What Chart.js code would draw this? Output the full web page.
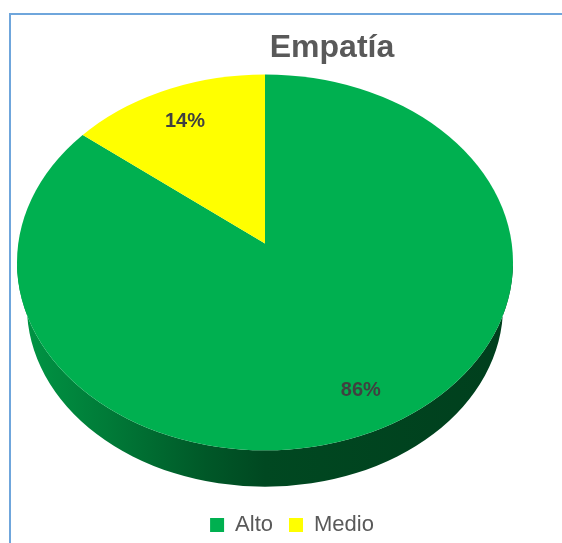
<!DOCTYPE html>
<html>
<head>
<meta charset="utf-8">
<script src="https://cdn.jsdelivr.net/npm/chart.js@4"></script>
<style>
  html, body { margin: 0; padding: 0; background: #fff; overflow: hidden; width: 562px; height: 543px; }
  #frame { position: absolute; left: 9px; top: 13px; width: 620px; height: 620px; border: 2px solid #6fa6dc; box-sizing: border-box; }
  #c { position: absolute; left: 0; top: 0; }
</style>
</head>
<body>
<div id="frame"></div>
<canvas id="c" width="562" height="543"></canvas>
<script>
// Survey result: share of respondents per empathy level
const chartTitle = 'Empatía';
const categories = ['Alto', 'Medio'];
const percentages = [86, 14];

const sliceColors = ['#00b050', '#ffff00'];
const FONT = "'Liberation Sans', Arial, sans-serif";

// Projection of the flat pie onto a tilted, extruded disk.
// All ratios are relative to the disk's half-width (rx) or half-height (ry).
const VIEW = {
  tilt: 0.758,       // ry / rx of the top face
  hubLift: 0.10,     // hub sits above the face centre (perspective)
  sliceTilt: 0.72,   // vertical squash applied to the slice geometry
  cover: 1.25,       // slices are drawn past the rim and clipped by it
  sideDrop: 0.234,   // how far the bottom rim sits below the top rim
  sideShrink: 0.96,  // bottom rim is slightly smaller (perspective)
  labelAt: 0.8       // value labels at this fraction of the hub-to-rim distance
};
const SIDE_SHADE = [[0, 0.86], [0.18, 0.7], [0.38, 0.5], [0.5, 0.41], [1, 0.36]];
const BOX_SHIFT = { title: { x: 67, y: 0 }, legend: { x: 27, y: 3 } };

function shade(hex, f) {
  const n = parseInt(hex.slice(1), 16);
  const r = (n >> 16) & 255, g = (n >> 8) & 255, b = n & 255;
  return `rgb(${Math.round(r * f)},${Math.round(g * f)},${Math.round(b * f)})`;
}

function geometry(chart) {
  const area = chart.chartArea;
  const arc0 = chart.getDatasetMeta(0).data[0];
  const RX = area.width / 2, RY = RX * VIEW.tilt;
  const cx = (area.left + area.right) / 2;
  const fy = area.top + RY;
  return {
    cx, fy, RX, RY,
    hy: fy - VIEW.hubLift * RY,
    s: VIEW.cover * RX / arc0.outerRadius,
    k: VIEW.sliceTilt,
    ax: arc0.x, ay: arc0.y,
    bcy: fy + VIEW.sideDrop * RY,
    brx: RX * VIEW.sideShrink, bry: RY * VIEW.sideShrink
  };
}

// distance along direction (dx, dy) from the hub to the face rim
function rimHit(g, dx, dy) {
  const e = (g.hy - g.fy) / g.RY;
  const a = (dx / g.RX) ** 2 + (dy / g.RY) ** 2;
  const b = 2 * e * dy / g.RY;
  const c = e * e - 1;
  return (-b + Math.sqrt(b * b - 4 * a * c)) / (2 * a);
}

// ellipse parameter of the rim point reached by a slice edge at angle theta
function rimAngle(g, theta) {
  const dx = Math.cos(theta), dy = g.k * Math.sin(theta);
  const t = rimHit(g, dx, dy);
  const x = g.cx + t * dx, y = g.hy + t * dy;
  return Math.atan2((y - g.fy) / g.RY, (x - g.cx) / g.RX);
}

const pie3d = {
  id: 'pie3d',
  beforeDatasetsDraw(chart) {
    const ctx = chart.ctx, g = geometry(chart);
    const arcs = chart.getDatasetMeta(0).data;
    // extruded side wall, only where it faces the viewer
    arcs.forEach((arc, i) => {
      const p0 = rimAngle(g, arc.startAngle);
      let p1 = rimAngle(g, arc.endAngle);
      while (p1 <= p0) p1 += 2 * Math.PI;
      for (let n = -1; n <= 1; n++) {
        const lo = Math.max(p0, 2 * Math.PI * n);
        const hi = Math.min(p1, 2 * Math.PI * n + Math.PI);
        if (hi <= lo) continue;
        const grad = ctx.createLinearGradient(g.cx - g.RX, 0, g.cx + g.RX, 0);
        SIDE_SHADE.forEach(([o, f]) => grad.addColorStop(o, shade(sliceColors[i], f)));
        ctx.beginPath();
        ctx.ellipse(g.cx, g.fy, g.RX, g.RY, 0, lo, hi);
        ctx.ellipse(g.cx, g.bcy, g.brx, g.bry, 0, hi, lo, true);
        ctx.closePath();
        ctx.fillStyle = grad;
        ctx.fill();
      }
    });
    // top face: slices tilted about the hub and clipped to the rim
    ctx.save();
    ctx.beginPath();
    ctx.ellipse(g.cx, g.fy, g.RX, g.RY, 0, 0, 2 * Math.PI);
    ctx.clip();
    ctx.translate(g.cx, g.hy);
    ctx.scale(g.s, g.s * g.k);
    ctx.translate(-g.ax, -g.ay);
  },
  afterDatasetsDraw(chart) {
    const ctx = chart.ctx;
    ctx.restore();
    const g = geometry(chart);
    const arcs = chart.getDatasetMeta(0).data;
    ctx.save();
    ctx.font = `bold 20px ${FONT}`;
    ctx.fillStyle = '#404040';
    ctx.textAlign = 'center';
    ctx.textBaseline = 'middle';
    arcs.forEach((arc, i) => {
      const mid = (arc.startAngle + arc.endAngle) / 2;
      const dx = Math.cos(mid), dy = g.k * Math.sin(mid);
      const t = rimHit(g, dx, dy) * VIEW.labelAt;
      ctx.fillText(percentages[i] + '%', g.cx + t * dx, g.hy + t * dy);
    });
    ctx.restore();
  }
};

// title and legend are offset from the plot's centre line
const boxShift = {
  id: 'boxShift',
  afterLayout(chart) {
    const move = (box, d) => { if (!box) return; box.left += d.x; box.right += d.x; box.top += d.y; box.bottom += d.y; };
    move(chart.titleBlock, BOX_SHIFT.title);
    move(chart.legend, BOX_SHIFT.legend);
  }
};

new Chart(document.getElementById('c'), {
  type: 'pie',
  data: {
    labels: categories,
    datasets: [{
      data: percentages,
      backgroundColor: sliceColors,
      borderWidth: 0,
      clip: false
    }]
  },
  options: {
    responsive: false,
    animation: false,
    events: [],
    layout: { padding: { left: 17, right: 49, top: 0, bottom: 0 } },
    plugins: {
      title: {
        display: true,
        text: chartTitle,
        color: '#595959',
        font: { size: 32, weight: 'bold', family: FONT },
        padding: { top: 29, bottom: 7 }
      },
      legend: {
        position: 'bottom',
        labels: {
          boxWidth: 14,
          boxHeight: 14,
          padding: 16,
          color: '#595959',
          font: { size: 22, family: FONT }
        }
      },
      tooltip: { enabled: false }
    }
  },
  plugins: [pie3d, boxShift]
});
</script>
</body>
</html>
